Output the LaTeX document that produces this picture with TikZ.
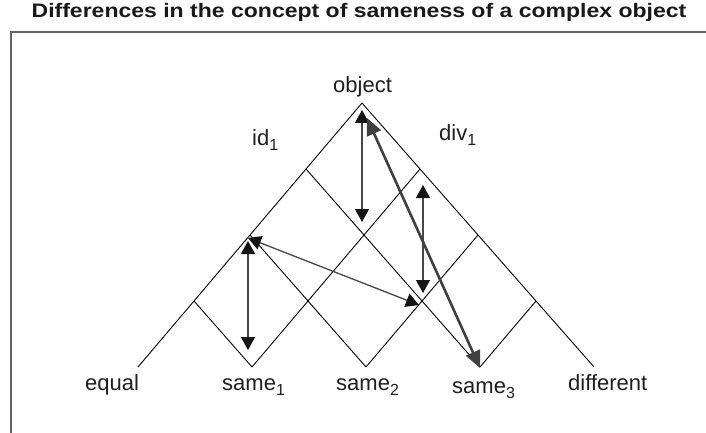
\documentclass[tikz,border=0pt]{standalone}
\usepackage{fontspec}
\setmainfont{Liberation Sans}
\usetikzlibrary{arrows.meta}
\newcommand{\sbs}[1]{\raisebox{-5.5pt}{\fontsize{16}{16}\selectfont #1}}
\begin{document}
\begin{tikzpicture}[x=1pt,y=-1pt,
  lat/.style={line width=0.9pt, black},
  dbl/.style={line width=1.3pt, draw=black!72,
    {Triangle[length=13pt,width=14pt,color=black!92]}-{Triangle[length=13pt,width=14pt,color=black!92]}},
  thick arrow/.style={line width=2.6pt, draw=black!75,
    {Triangle[length=17pt,width=15pt]}-{Triangle[length=17pt,width=15pt]}},
  frame/.style={line width=1.8pt, draw=black!62},
  lab/.style={font=\fontsize{22}{25}\selectfont, inner sep=0pt, anchor=base west, text=black!88},
  ttl/.style={font=\bfseries\fontsize{19.5}{22}\selectfont, inner sep=0pt, text=black!90}
]
\useasboundingbox (0,0) rectangle (706,433);
\fill[white] (0,0) rectangle (706,433);

% title and frame
\node[ttl, xscale=1.18] (title) at (359,12) {Differences in the concept of sameness of a complex object};
\coordinate (fbl) at (11,433);
\coordinate (ftl) at (11,32);
\coordinate (ftr) at (706,32);
\draw[frame] (fbl) -- (ftl) -- (ftr);

% lattice points P(a,b) = O + a*u + b*v
\foreach \a in {0,...,4}{
  \foreach \b in {0,...,4}{
    \coordinate (P\a\b) at ({362-56*\a+58*\b},{103+66*\a+66*\b});
  }
}
% up-right lines
\draw[lat] (P40) -- (P00);
\draw[lat] (P31) -- (P01);
\draw[lat] (P22) -- (P02);
\draw[lat] (P13) -- (P03);
% down-right lines
\draw[lat] (P00) -- (P04);
\draw[lat] (P10) -- (P13);
\draw[lat] (P20) -- (P22);
\draw[lat] (P30) -- (P31);

% arrow end points
\coordinate (a1t) at (362,110);
\coordinate (a1b) at (362,222);
\coordinate (a2t) at (248,241);
\coordinate (a2b) at (248,350);
\coordinate (a3t) at (423,185);
\coordinate (a3b) at (423,293);
\coordinate (a4s) at (248,238);
\coordinate (a4e) at (419,305);
\coordinate (a5s) at (367,118);
\coordinate (a5e) at (480,368);

\draw[dbl] (a1t) -- (a1b);
\draw[dbl] (a2t) -- (a2b);
\draw[dbl] (a3t) -- (a3b);
\draw[dbl] (a4s) -- (a4e);
\draw[thick arrow] (a5s) -- (a5e);

% labels
\node[lab] (object) at (333,93) {object};
\node[lab] (id) at (252,145) {id\sbs{1}};
\node[lab] (div) at (439,140) {div\sbs{1}};
\node[lab] (equal) at (85,390) {equal};
\node[lab] (same1) at (222,390) {same\sbs{1}};
\node[lab] (same2) at (336,390) {same\sbs{2}};
\node[lab] (same3) at (452,393) {same\sbs{3}};
\node[lab] (different) at (568,390) {different};
\end{tikzpicture}
\end{document}
